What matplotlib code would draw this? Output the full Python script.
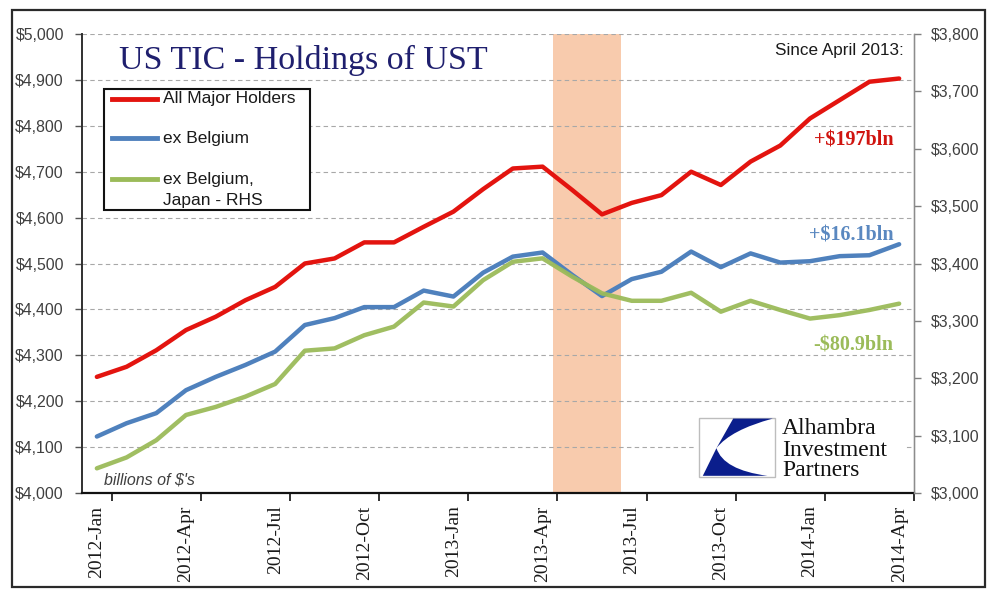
import matplotlib
matplotlib.use("Agg")
import matplotlib.pyplot as plt
from matplotlib.patches import Rectangle, PathPatch
from matplotlib.path import Path
from matplotlib.lines import Line2D
from matplotlib.ticker import FuncFormatter, FixedLocator
import numpy as np

# ---------------- data ----------------
months = ["2012-Jan", "2012-Feb", "2012-Mar", "2012-Apr", "2012-May", "2012-Jun",
          "2012-Jul", "2012-Aug", "2012-Sep", "2012-Oct", "2012-Nov", "2012-Dec",
          "2013-Jan", "2013-Feb", "2013-Mar", "2013-Apr", "2013-May", "2013-Jun",
          "2013-Jul", "2013-Aug", "2013-Sep", "2013-Oct", "2013-Nov", "2013-Dec",
          "2014-Jan", "2014-Feb", "2014-Mar", "2014-Apr"]

all_major = [4253, 4275, 4311, 4355, 4384, 4420, 4449, 4500, 4511, 4546,
             4546, 4580, 4613, 4662, 4707, 4711, 4660, 4607, 4632, 4649,
             4700, 4671, 4722, 4757, 4816, 4856, 4896, 4903]

ex_belgium = [4123, 4152, 4174, 4224, 4253, 4279, 4308, 4366, 4381, 4405,
              4405, 4441, 4428, 4480, 4515, 4524, 4475, 4429, 4466, 4482,
              4526, 4492, 4522, 4502, 4505, 4516, 4518, 4542]

ex_belgium_japan = [3043, 3062, 3092, 3136, 3150, 3168, 3190, 3248, 3252, 3275,
                    3290, 3332, 3325, 3371, 3403, 3409, 3377, 3348, 3335, 3335,
                    3349, 3316, 3335, 3319, 3304, 3310, 3319, 3330]

series_labels = ["All Major Holders", "ex Belgium", "ex Belgium,\nJapan - RHS"]
left_ticks = [4000, 4100, 4200, 4300, 4400, 4500, 4600, 4700, 4800, 4900, 5000]
right_ticks = [3000, 3100, 3200, 3300, 3400, 3500, 3600, 3700, 3800]
label_months = ["2012-Jan", "2012-Apr", "2012-Jul", "2012-Oct", "2013-Jan",
                "2013-Apr", "2013-Jul", "2013-Oct", "2014-Jan", "2014-Apr"]
annotations = ["+$197bln", "+$16.1bln", "-$80.9bln"]

# ---------------- style ----------------
RED = "#E3140F"
BLUE = "#4F81BD"
GREEN = "#9BBB59"
SANS = ["Liberation Sans", "DejaVu Sans"]
SERIF = ["Liberation Serif", "DejaVu Serif"]
TICKCOL = "#404040"

W, H = 988, 600
fig = plt.figure(figsize=(W / 100, H / 100), dpi=100)
fig.patch.set_facecolor("white")

# axes placement (pixels: left 82, right 914, top 34, bottom 493)
ax = fig.add_axes([82 / W, (H - 493) / H, 832 / W, 459 / H])
ax2 = ax.twinx()

x = np.arange(len(months))

# shaded band (approx. May-Jun 2013)
ax.axvspan(15.35, 17.65, color="#F8CBAD", zorder=0.2, lw=0)

ax.plot(x, all_major, color=RED, lw=3.2, zorder=3, solid_capstyle="round",
        solid_joinstyle="round")
ax.plot(x, ex_belgium, color=BLUE, lw=3.2, zorder=3, solid_capstyle="round",
        solid_joinstyle="round")
ax2.plot(x, ex_belgium_japan, color=GREEN, lw=3.2, zorder=3, alpha=0.95,
         solid_capstyle="round", solid_joinstyle="round")

ax.set_xlim(-0.5, len(months) - 0.5)
ax.set_ylim(4000, 5000)
ax2.set_ylim(3000, 3800)

# grid
ax.set_axisbelow(True)
ax.yaxis.grid(True, color="#A8A8A8", linestyle=(0, (4, 3)), lw=0.8)
ax.set_yticks(left_ticks)
ax2.set_yticks(right_ticks)
money = FuncFormatter(lambda v, p: "${:,.0f}".format(v))
ax.yaxis.set_major_formatter(money)
ax2.yaxis.set_major_formatter(money)

# x ticks: marks between categories, labels at category centers
tick_pos = [months.index(m) + 0.5 for m in label_months]
lab_pos = [months.index(m) for m in label_months]
ax.xaxis.set_major_locator(FixedLocator(tick_pos))
ax.xaxis.set_minor_locator(FixedLocator(lab_pos))
ax.set_xticklabels([""] * len(tick_pos))
ax.set_xticklabels(label_months, minor=True)
ax.tick_params(axis="x", which="major", direction="out", length=6, width=1.3,
               color="#222222")
ax.tick_params(axis="x", which="minor", length=0, pad=9)
for t in ax.xaxis.get_minorticklabels():
    t.set_rotation(90)
    t.set_fontfamily(SERIF)
    t.set_fontsize(14)
    t.set_color("#1a1a1a")
    t.set_va("top")
    t.set_ha("center")

ax.tick_params(axis="y", direction="out", length=5, width=1.0, color="#555555",
               labelsize=11.4, labelcolor=TICKCOL, pad=8)
ax2.tick_params(axis="y", direction="out", length=5, width=1.0, color="#808080",
                labelsize=11.4, labelcolor=TICKCOL, pad=7.5)
for t in ax.get_yticklabels() + ax2.get_yticklabels():
    t.set_fontfamily(SANS)

for a in (ax, ax2):
    a.spines["top"].set_visible(False)
ax.spines["left"].set_color("#303030")
ax.spines["left"].set_linewidth(1.4)
ax.spines["bottom"].set_color("#111111")
ax.spines["bottom"].set_linewidth(1.6)
ax2.spines["right"].set_color("#8C8C8C")
ax2.spines["right"].set_linewidth(1.0)
ax2.spines["left"].set_visible(False)
ax2.spines["bottom"].set_visible(False)

# title
ax.text(0.266, 0.943, "US TIC - Holdings of UST", transform=ax.transAxes,
        ha="center", va="center", fontsize=24.5, family=SERIF, color="#1F1F6E",
        zorder=6)

# legend (drawn manually to match layout)
tr = ax.transAxes
lg = Rectangle((0.0264, 0.6166), 0.2476, 0.2634, transform=tr, facecolor="white",
               edgecolor="#111111", lw=1.5, zorder=7)
ax.add_patch(lg)
rows = [0.8584, 0.7734, 0.684]
for yy, col, lab in zip(rows, [RED, BLUE, GREEN], series_labels):
    ax.add_line(Line2D([0.036, 0.0901], [yy, yy], transform=tr, color=col, lw=3.5,
                       zorder=8))
    first, *rest = lab.split("\n")
    ax.text(0.0974, yy, first, transform=tr, ha="left", va="center",
            fontsize=12.5, family=SANS, color="#1a1a1a", zorder=8)
    for k, extra in enumerate(rest):
        ax.text(0.0974, yy - 0.046 * (k + 1), extra, transform=tr, ha="left",
                va="center", fontsize=12.5, family=SANS, color="#1a1a1a", zorder=8)

# annotations
ax.text(0.988, 0.965, "Since April 2013:", transform=tr, ha="right", va="center",
        fontsize=12.3, family=SANS, color="#1a1a1a", zorder=6)
for txt, yy, col in zip(annotations, [0.767, 0.562, 0.322],
                        ["#D0140F", "#5A88C0", "#9BBB59"]):
    ax.text(0.975, yy, txt, transform=tr, ha="right", va="center", fontsize=14.5,
            family=SERIF, fontweight="bold", color=col, zorder=6)

ax.text(0.026, 0.028, "billions of $'s", transform=tr, ha="left", va="center",
        fontsize=11.5, family=SANS, style="italic", color="#404040", zorder=6)

# Alhambra logo (white background box covering grid)
def px2ax(px, py):
    return ((px - 82) / 832, (493 - py) / 459)

bx0, by0 = px2ax(696, 487)
bx1, by1 = px2ax(904, 412)
ax2.add_patch(Rectangle((bx0, by0), bx1 - bx0, by1 - by0, transform=tr,
                        facecolor="white", edgecolor="none", zorder=9))
lx0, ly0 = px2ax(699, 477)
lx1, ly1 = px2ax(775, 418)
ax2.add_patch(Rectangle((lx0, ly0), lx1 - lx0, ly1 - ly0, transform=tr,
                        facecolor="white", edgecolor="#BDBDBD", lw=1.0, zorder=10))

def loc(u, v):
    return (lx0 + u * (lx1 - lx0), ly0 + v * (ly1 - ly0))

top_shape = Path([loc(0.45, 0.99), loc(0.97, 0.99), loc(0.42, 0.80), loc(0.23, 0.49),
                  loc(0.45, 0.99)],
                 [Path.MOVETO, Path.LINETO, Path.CURVE3, Path.CURVE3, Path.CLOSEPOLY])
bot_shape = Path([loc(0.23, 0.49), loc(0.32, 0.12), loc(0.90, 0.02), loc(0.05, 0.02),
                  loc(0.23, 0.49)],
                 [Path.MOVETO, Path.CURVE3, Path.CURVE3, Path.LINETO, Path.CLOSEPOLY])
for pth in (top_shape, bot_shape):
    ax2.add_patch(PathPatch(pth, transform=tr, facecolor="#0B1E8C", edgecolor="none",
                            zorder=11))

for txt, py in zip(["Alhambra", "Investment", "Partners"], [429, 450, 471]):
    tx, ty = px2ax(782, py)
    ax2.text(tx, ty, txt, transform=tr, ha="left", va="center", fontsize=17,
             family=SERIF, color="#111111", zorder=11)

# outer frame
fig.patches.append(Rectangle((12 / W, 1 - 587 / H), (985 - 12) / W, (587 - 10) / H,
                             transform=fig.transFigure, facecolor="none",
                             edgecolor="#2a2a2a", lw=1.6, zorder=20))

fig.savefig("out.png", dpi=100, facecolor="white")
